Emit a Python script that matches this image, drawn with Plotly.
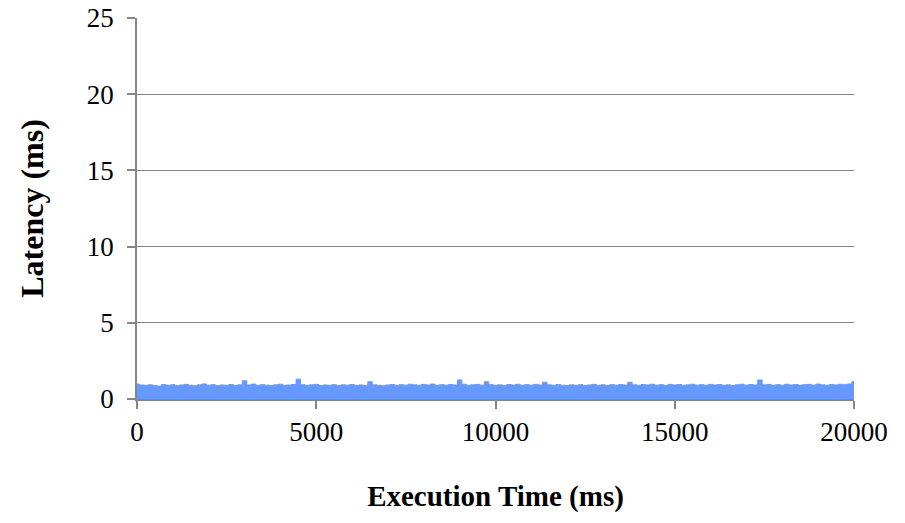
import plotly.graph_objects as go

# Sampling interval of the latency trace (ms)
step_ms = 125

# Peak latency per sampling interval (ms)
latency_ms = [
    0.98, 0.92, 0.90, 0.93, 0.88, 0.85, 0.95, 0.90, 0.94, 0.89,
    0.92, 0.96, 0.90, 0.87, 0.93, 0.99, 0.91, 0.94, 0.88, 0.92,
    0.90, 0.95, 0.89, 0.93, 1.20, 0.92, 0.98, 0.90, 0.94, 0.91,
    0.88, 0.93, 0.97, 0.90, 0.92, 0.95, 1.30, 0.94, 0.90, 0.93,
    0.96, 0.89, 0.92, 0.90, 0.94, 0.88, 0.93, 0.91, 0.95, 0.90,
    0.92, 0.89, 1.13, 0.93, 0.90, 0.87, 0.92, 0.95, 0.90, 0.94,
    0.91, 0.97, 0.93, 0.90, 0.96, 0.92, 0.98, 0.90, 0.94, 0.91,
    0.95, 0.92, 1.25, 0.97, 0.90, 0.93, 0.96, 0.91, 1.13, 0.94,
    0.90, 0.93, 0.89, 0.95, 0.92, 0.97, 0.90, 0.94, 0.91, 0.96,
    0.92, 1.10, 0.93, 0.90, 0.95, 0.91, 0.88, 0.93, 0.90, 0.94,
    0.89, 0.92, 0.96, 0.90, 0.93, 0.88, 0.94, 0.91, 0.95, 0.92,
    1.10, 0.93, 0.90, 0.95, 0.92, 0.97, 0.91, 0.94, 0.89, 0.96,
    0.92, 0.95, 0.90, 0.93, 0.97, 0.91, 0.94, 0.90, 0.96, 0.92,
    0.95, 0.90, 0.93, 0.89, 0.94, 0.97, 0.91, 0.95, 0.92, 1.25,
    0.93, 0.96, 0.90, 0.94, 0.91, 0.97, 0.92, 0.95, 0.90, 0.94,
    0.96, 0.91, 0.98, 0.93, 0.90, 0.95, 0.92, 0.97, 0.94, 0.99,
    1.13,
]
time_ms = [i * step_ms for i in range(len(latency_ms))]

x_ticks = [0, 5000, 10000, 15000, 20000]
y_ticks = [0, 5, 10, 15, 20, 25]

line_color = "#6699FF"
axis_gray = "#868686"
serif = "Liberation Serif, Times New Roman, serif"

fig = go.Figure(
    go.Scatter(
        x=time_ms,
        y=latency_ms,
        mode="lines",
        line=dict(color=line_color, width=1, shape="hvh"),
        fill="tozeroy",
        fillcolor=line_color,
        hoverinfo="x+y",
    )
)

fig.update_layout(
    width=905,
    height=523,
    margin=dict(l=137, r=51, t=18, b=124),
    paper_bgcolor="white",
    plot_bgcolor="white",
    showlegend=False,
    font=dict(family=serif, color="black", size=27),
)

fig.update_xaxes(
    range=[0, 20000],
    tickvals=x_ticks,
    ticktext=[str(v) for v in x_ticks],
    automargin=False,
    showgrid=False,
    zeroline=False,
    showline=True,
    linecolor=axis_gray,
    linewidth=1.5,
    ticks="outside",
    ticklen=8,
    tickcolor=axis_gray,
    tickwidth=1.5,
    tickfont=dict(family=serif, size=27, color="black"),
    title=dict(
        text="<b>Execution Time (ms)</b>",
        font=dict(family=serif, size=29, color="black"),
        standoff=40,
    ),
)

fig.update_yaxes(
    range=[0, 25],
    tickvals=y_ticks,
    ticktext=[str(v) for v in y_ticks],
    automargin=False,
    showgrid=True,
    gridcolor=axis_gray,
    gridwidth=1.2,
    zeroline=False,
    showline=True,
    linecolor=axis_gray,
    linewidth=1.5,
    ticks="outside",
    ticklen=8,
    tickcolor=axis_gray,
    tickwidth=1.5,
    ticklabelstandoff=8,
    tickfont=dict(family=serif, size=27, color="black"),
    title=dict(
        text="<b>Latency (ms)</b>",
        font=dict(family=serif, size=32, color="black"),
        standoff=34,
    ),
)

fig.write_html("out.html")
